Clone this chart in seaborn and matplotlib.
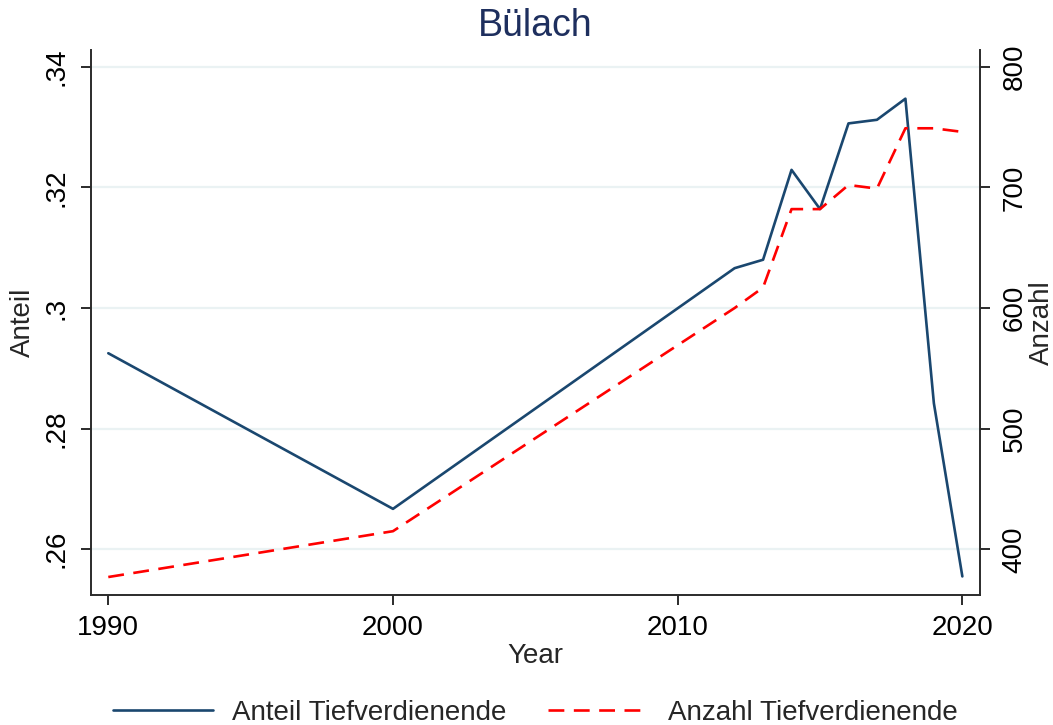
import numpy as np
import pandas as pd
import matplotlib
matplotlib.use("Agg")
import matplotlib.pyplot as plt
import seaborn as sns
from matplotlib.lines import Line2D

# ---- data ----
years = [1990, 2000, 2012, 2013, 2014, 2015, 2016, 2017, 2018, 2019, 2020]
anteil = [0.2925, 0.2667, 0.3066, 0.3080, 0.3229, 0.3164, 0.3306, 0.3312, 0.3347, 0.2842, 0.2555]
anzahl = [377, 415, 600, 617, 682, 682, 702, 699, 749, 749, 746]
x_ticks = [1990, 2000, 2010, 2020]
left_ticks = [0.26, 0.28, 0.30, 0.32, 0.34]
left_labels = [".26", ".28", ".3", ".32", ".34"]
right_ticks = [400, 500, 600, 700, 800]
title = "Bülach"
xlabel = "Year"
ylabel_left = "Anteil"
ylabel_right = "Anzahl"
legend_labels = ["Anteil Tiefverdienende", "Anzahl Tiefverdienende"]

sns.set_style("white")
plt.rcParams['font.family'] = ['Liberation Sans', 'DejaVu Sans']

blue = "#1a476f"
red = "#ff0000"
spine_c = "#2b2b2b"
grid_c = "#eaf2f3"
fs = 20
lw = 1.9

df = pd.DataFrame({"year": years, "anteil": anteil, "anzahl": anzahl})

fig = plt.figure(figsize=(10.53, 7.25), dpi=100)
ax = fig.add_axes([90.7/1053, 1-595/725, (980-90.7)/1053, (595-50)/725])
ax2 = ax.twinx()

sns.lineplot(data=df, x="year", y="anteil", ax=ax, color=blue, lw=lw)
sns.lineplot(data=df, x="year", y="anzahl", ax=ax2, color=red, lw=lw)
ax2.lines[0].set_dashes((6, 3.6))

ax.set_xlim(1989.382, 2020.62)
ax.set_ylim(0.25242, 0.34277)
ax2.set_ylim(362.1, 813.9)

ax.set_xticks(x_ticks)
ax.set_xticklabels([str(v) for v in x_ticks], fontsize=fs)
ax.set_yticks(left_ticks)
ax.set_yticklabels(left_labels, fontsize=fs, rotation=90, va="center")
ax2.set_yticks(right_ticks)
ax2.set_yticklabels([str(v) for v in right_ticks], fontsize=fs, rotation=90, va="center")

ax.yaxis.grid(True, color=grid_c, lw=1.6)
ax.xaxis.grid(False)
ax.set_axisbelow(True)

for a in (ax, ax2):
    for s in a.spines.values():
        s.set_color(spine_c)
        s.set_linewidth(1.4)
    a.spines["top"].set_visible(False)
ax2.spines["left"].set_visible(False)
ax2.spines["bottom"].set_visible(False)
ax.spines["right"].set_visible(False)
ax2.spines["right"].set_visible(True)

ax.tick_params(axis="both", direction="out", length=7.5, width=1.4, color=spine_c,
               labelcolor="black", bottom=True, left=True)
ax.tick_params(axis="x", pad=7)
ax.tick_params(axis="y", pad=8)
ax2.tick_params(axis="y", direction="out", length=7.5, width=1.4, color=spine_c,
                labelcolor="black", right=True, pad=8)

ax.set_xlabel(xlabel, fontsize=fs, labelpad=1)
ax.set_ylabel(ylabel_left, fontsize=fs, labelpad=5)
ax2.set_ylabel(ylabel_right, fontsize=fs, labelpad=1, rotation=90)

fig.text(535/1053, 1-26/725, title, fontsize=27, color="#1e2f5e", ha="center", va="center")

handles = [Line2D([], [], color=blue, lw=lw),
           Line2D([], [], color=red, lw=lw, dashes=(6, 3.6))]
fig.legend(handles, legend_labels, loc="center", bbox_to_anchor=(535/1053, 1-713/725),
           ncol=2, frameon=False, fontsize=fs, handlelength=3.6, handletextpad=0.7,
           columnspacing=1.5, borderaxespad=0, borderpad=0)

fig.savefig("out.png", dpi=100)
